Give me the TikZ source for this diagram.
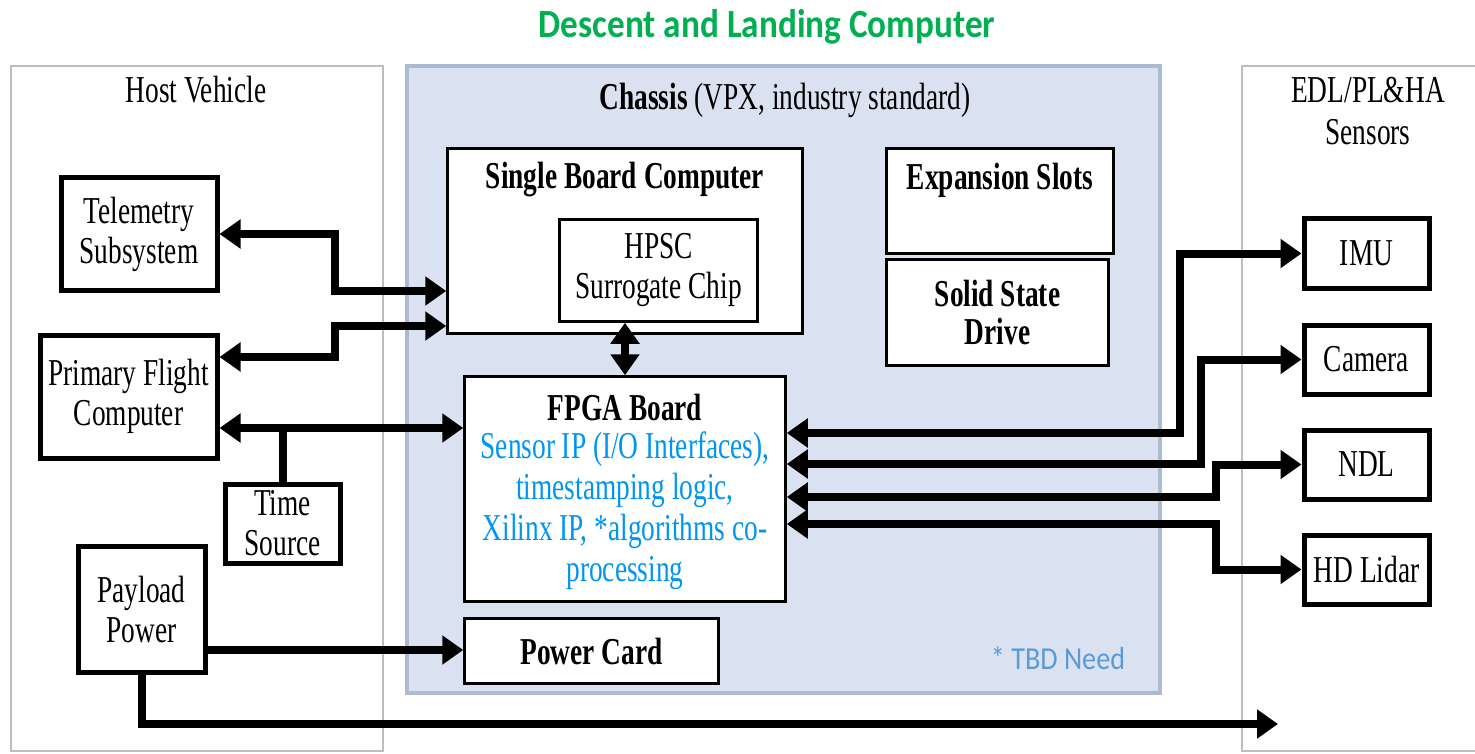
\documentclass[tikz,border=0pt]{standalone}
\usepackage{fontspec}
\setmainfont{Liberation Serif}[FakeStretch=0.72]
\newfontfamily\calibri{Carlito}[FakeStretch=0.88]
\usetikzlibrary{arrows.meta}
\definecolor{titlegreen}{RGB}{0,176,80}
\definecolor{chassisfill}{RGB}{218,226,242}
\definecolor{chassisline}{RGB}{172,187,208}
\definecolor{groupline}{RGB}{190,190,190}
\definecolor{ipblue}{RGB}{0,150,240}
\definecolor{tbdblue}{RGB}{91,155,213}
\begin{document}
\begin{tikzpicture}[x=1pt,y=-1pt,
  font=\fontsize{38}{40}\selectfont,
  thickbox/.style={draw, line width=5pt, fill=white, align=center, inner sep=0pt},
  thinbox/.style={draw, line width=2.5pt, fill=white, align=center, inner sep=0pt},
  lbl/.style={align=center, inner sep=0pt},
  link/.style={line width=8pt},
  both/.style={link, {Triangle[length=21pt,width=28pt]}-{Triangle[length=21pt,width=28pt]}},
  single/.style={link, -{Triangle[length=21pt,width=28pt]}}]
\useasboundingbox (0,0) rectangle (1475,754);

% title
\node[lbl, text=titlegreen, font=\calibri\bfseries\fontsize{40}{44}\selectfont] (title) at (767,27) {Descent and Landing Computer};

% group frames
\draw[groupline, line width=2.5pt] (11,66) rectangle (383,751);
\node[lbl] (hostlbl) at (196,90) {Host Vehicle};
\draw[chassisline, fill=chassisfill, line width=4pt] (407,66) rectangle (1160,693);
\node[lbl] (chassislbl) at (785,100) {\textbf{Chassis} (VPX, industry standard)};
\draw[groupline, line width=2.5pt] (1478,66) -- (1242,66) -- (1242,751) -- (1478,751);
\node[lbl, font=\fontsize{38}{42}\selectfont] (edllbl) at (1368,111) {EDL/PL\&HA\\Sensors};
\node[lbl, text=tbdblue, font=\calibri\fontsize{32}{36}\selectfont] (tbd) at (1058,658) {* TBD Need};

% host vehicle units
\node[thickbox, minimum width=156pt, minimum height=112pt] (tel) at (139,234) {Telemetry\\Subsystem};
\node[thickbox, minimum width=177pt, minimum height=123pt] (pfc) at (128.5,396.5) {Primary Flight\\Computer};
\node[thickbox, minimum width=115pt, minimum height=79pt] (ts) at (282.5,523.5) {Time\\Source};
\node[thickbox, minimum width=127pt, minimum height=126pt] (pp) at (141.5,609) {Payload\\Power};

% chassis cards
\node[thinbox, minimum width=355pt, minimum height=185pt] (sbc) at (625,241) {};
\node[lbl, font=\bfseries\fontsize{38}{40}\selectfont] (sbctitle) at (625,180) {Single Board Computer};
\node[thinbox, minimum width=198pt, minimum height=102pt] (hpsc) at (658.5,270.5) {HPSC\\Surrogate Chip};
\node[thinbox, minimum width=321pt, minimum height=225pt] (fpga) at (625,489) {};
\node[lbl, font=\bfseries\fontsize{38}{40}\selectfont] (fpgatitle) at (625,408) {FPGA Board};
\node[lbl, text=ipblue, font=\fontsize{38}{41}\selectfont] (fpgatext) at (625,510.5) {Sensor IP (I/O Interfaces),\\timestamping logic,\\Xilinx IP, *algorithms co-\\processing};
\node[thinbox, minimum width=254pt, minimum height=65pt, font=\bfseries\fontsize{38}{40}\selectfont] (pc) at (591.5,651) {Power Card};
\node[thinbox, minimum width=227pt, minimum height=105pt] (exp) at (1000,201) {};
\node[lbl, font=\bfseries\fontsize{38}{40}\selectfont] (exptitle) at (1000,180) {Expansion Slots};
\node[thinbox, minimum width=222pt, minimum height=106pt, font=\bfseries\fontsize{38}{38}\selectfont] (ssd) at (997.5,312.5) {Solid State\\Drive};

% sensors
\node[thickbox, minimum width=125pt, minimum height=69pt] (imu) at (1366.5,253.5) {IMU};
\node[thickbox, minimum width=125pt, minimum height=69pt] (cam) at (1366.5,359.5) {Camera};
\node[thickbox, minimum width=125pt, minimum height=69pt] (ndl) at (1366.5,464.5) {NDL};
\node[thickbox, minimum width=125pt, minimum height=69pt] (hdl) at (1366.5,569.5) {HD Lidar};

\coordinate (feed) at (1278,724);

% host links
\draw[both] (tel.east) -| (335,291) -- (sbc.west |- 0,291);
\draw[both] (pfc.east |- 0,357) -| (335,326) -- (sbc.west |- 0,326);
\draw[link] (ts.north) -- (ts.north |- 0,428);
\draw[both] (pfc.east |- 0,428) -- (fpga.west |- 0,428);
\draw[both] (hpsc.south -| 625,0) -- (fpga.north -| 625,0);
\draw[single] (pp.east |- 0,650) -- (pc.west |- 0,650);
\draw[single] (pp.south) |- (feed);

% sensor links
\draw[both] (fpga.east |- 0,433) -| (1180,253.5) -- (imu.west);
\draw[both] (fpga.east |- 0,464) -| (1201,359.5) -- (cam.west);
\draw[both] (fpga.east |- 0,497) -| (1216,464.5) -- (ndl.west);
\draw[both] (fpga.east |- 0,524) -| (1216,569.5) -- (hdl.west);
\end{tikzpicture}
\end{document}
